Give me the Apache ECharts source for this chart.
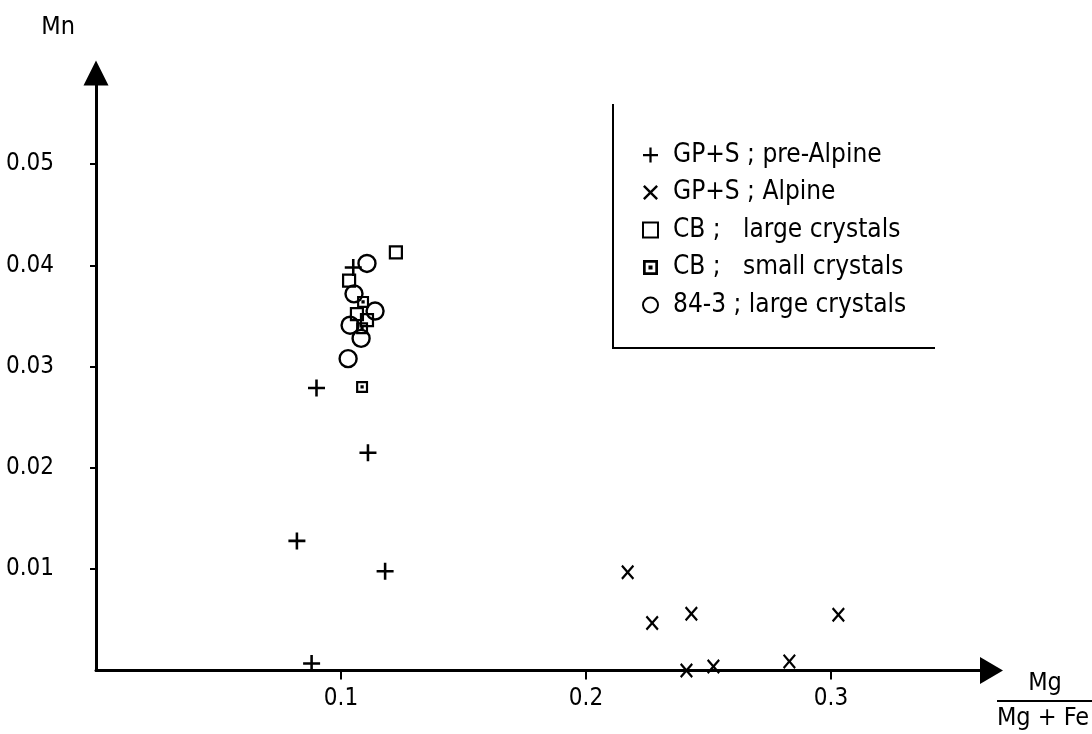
<!DOCTYPE html>
<html>
<head>
<meta charset="utf-8">
<title>Mn vs Mg/(Mg+Fe)</title>
<script src="https://cdn.jsdelivr.net/npm/echarts@6/dist/echarts.min.js"></script>
<style>
  html, body { margin: 0; padding: 0; background: #fff; }
  #chart { width: 1092px; height: 734px; }
</style>
</head>
<body>
<div id="chart"></div>
<script>
// values: [Mg/(Mg+Fe), Mn]
const preAlpine = [[0.090, 0.0279], [0.111, 0.0215], [0.082, 0.0128], [0.118, 0.0098], [0.088, 0.0007], [0.105, 0.0398]];
const alpine = [[0.217, 0.0097], [0.227, 0.0047], [0.243, 0.0056], [0.241, 0.0000], [0.252, 0.0004], [0.283, 0.0009], [0.303, 0.0055]];
const cbLarge = [[0.1224, 0.0413], [0.1033, 0.0385], [0.1065, 0.0352], [0.1106, 0.0346]];
const cbSmall = [[0.1090, 0.0364], [0.1086, 0.0338], [0.1086, 0.0280]];
const large843 = [[0.1106, 0.0402], [0.1053, 0.0372], [0.1139, 0.0355], [0.1037, 0.0341], [0.1082, 0.0328], [0.1029, 0.0308]];

const seriesNames = ['GP+S ; pre-Alpine', 'GP+S ; Alpine', 'CB ;   large crystals', 'CB ;   small crystals', '84-3 ; large crystals'];
const xTicks = [0.1, 0.2, 0.3];
const yTicks = [0.01, 0.02, 0.03, 0.04, 0.05];

const FONT = "'Liberation Sans Narrow', 'DejaVu Sans Condensed', 'Liberation Sans', sans-serif";

// symbol shapes (filled paths)
const PLUS = 'path://M8.5,0H11.5V8.5H20V11.5H11.5V20H8.5V11.5H0V8.5H8.5Z';
const CROSS = 'path://M0,2.3L2.3,0L10,7.7L17.7,0L20,2.3L12.3,10L20,17.7L17.7,20L10,12.3L2.3,20L0,17.7L7.7,10Z';
const DOTBOX = 'path://M0,0H20V20H0Z M3.6,3.6V16.4H16.4V3.6Z M7.3,7.3H12.7V12.7H7.3Z';

const chart = echarts.init(document.getElementById('chart'));

chart.setOption({
  animation: false,
  backgroundColor: '#fff',
  grid: { left: 96, right: 100.5, top: 73.1, bottom: 63.5, containLabel: false, outerBoundsMode: 'none' },
  legend: {
    orient: 'vertical',
    left: 637,
    top: 137,
    itemWidth: 15,
    itemHeight: 15,
    itemGap: 11.5,
    selectedMode: false,
    data: seriesNames,
    textStyle: { fontSize: 26, fontFamily: FONT, color: '#000', padding: [0, 0, 0, 10] }
  },
  xAxis: {
    type: 'value',
    min: 0,
    max: 0.3655,
    interval: 0.1,
    axisLine: {
      onZero: false,
      lineStyle: { color: '#000', width: 3 },
      symbol: ['none', 'triangle'],
      symbolSize: [27, 23]
    },
    axisTick: { show: true, length: 9, lineStyle: { color: '#000', width: 2 }, customValues: xTicks },
    axisLabel: {
      customValues: xTicks,
      formatter: (v) => v.toFixed(1),
      margin: 16,
      fontSize: 24,
      fontFamily: FONT,
      color: '#000'
    },
    splitLine: { show: false }
  },
  yAxis: {
    type: 'value',
    min: 0,
    max: 0.059,
    interval: 0.01,
    name: 'Mn',
    nameLocation: 'end',
    nameGap: 33,
    nameTextStyle: { fontSize: 25, fontFamily: FONT, color: '#000', align: 'right', padding: [0, 21, 0, 0] },
    axisLine: {
      onZero: false,
      lineStyle: { color: '#000', width: 3 },
      symbol: ['none', 'triangle'],
      symbolSize: [25, 25]
    },
    axisTick: { show: true, length: 6, lineStyle: { color: '#000', width: 2 }, customValues: yTicks },
    axisLabel: {
      customValues: yTicks,
      formatter: (v) => v.toFixed(2),
      margin: 42,
      fontSize: 24,
      fontFamily: FONT,
      color: '#000'
    },
    splitLine: { show: false }
  },
  graphic: [
    // legend frame: left and bottom edges only
    {
      type: 'polyline',
      shape: { points: [[613, 104], [613, 348], [935, 348]] },
      style: { stroke: '#000', lineWidth: 2, fill: null }
    },
    // x axis title as a fraction
    {
      type: 'text', x: 1045, y: 683,
      style: { text: 'Mg', fontSize: 25, fontFamily: FONT, fill: '#000', align: 'center', verticalAlign: 'middle' }
    },
    {
      type: 'line',
      shape: { x1: 997, y1: 701, x2: 1092, y2: 701 },
      style: { stroke: '#000', lineWidth: 2 }
    },
    {
      type: 'text', x: 1043, y: 718,
      style: { text: 'Mg + Fe', fontSize: 25, fontFamily: FONT, fill: '#000', align: 'center', verticalAlign: 'middle' }
    }
  ],
  series: [
    {
      name: seriesNames[0], type: 'scatter', data: preAlpine,
      symbol: PLUS, symbolSize: 17, symbolKeepAspect: true,
      itemStyle: { color: '#000', opacity: 1 }
    },
    {
      name: seriesNames[1], type: 'scatter', data: alpine,
      symbol: CROSS, symbolSize: [13, 15],
      itemStyle: { color: '#000', opacity: 1 }
    },
    {
      name: seriesNames[2], type: 'scatter', data: cbLarge,
      symbol: 'rect', symbolSize: 12,
      itemStyle: { color: 'rgba(0,0,0,0)', borderColor: '#000', borderWidth: 2.2, opacity: 1 }
    },
    {
      name: seriesNames[3], type: 'scatter', data: cbSmall,
      symbol: DOTBOX, symbolSize: 12, symbolKeepAspect: true,
      itemStyle: { color: '#000', opacity: 1 }
    },
    {
      name: seriesNames[4], type: 'scatter', data: large843,
      symbol: 'circle', symbolSize: 17,
      itemStyle: { color: 'rgba(0,0,0,0)', borderColor: '#000', borderWidth: 2.4, opacity: 1 }
    }
  ]
});
</script>
</body>
</html>
